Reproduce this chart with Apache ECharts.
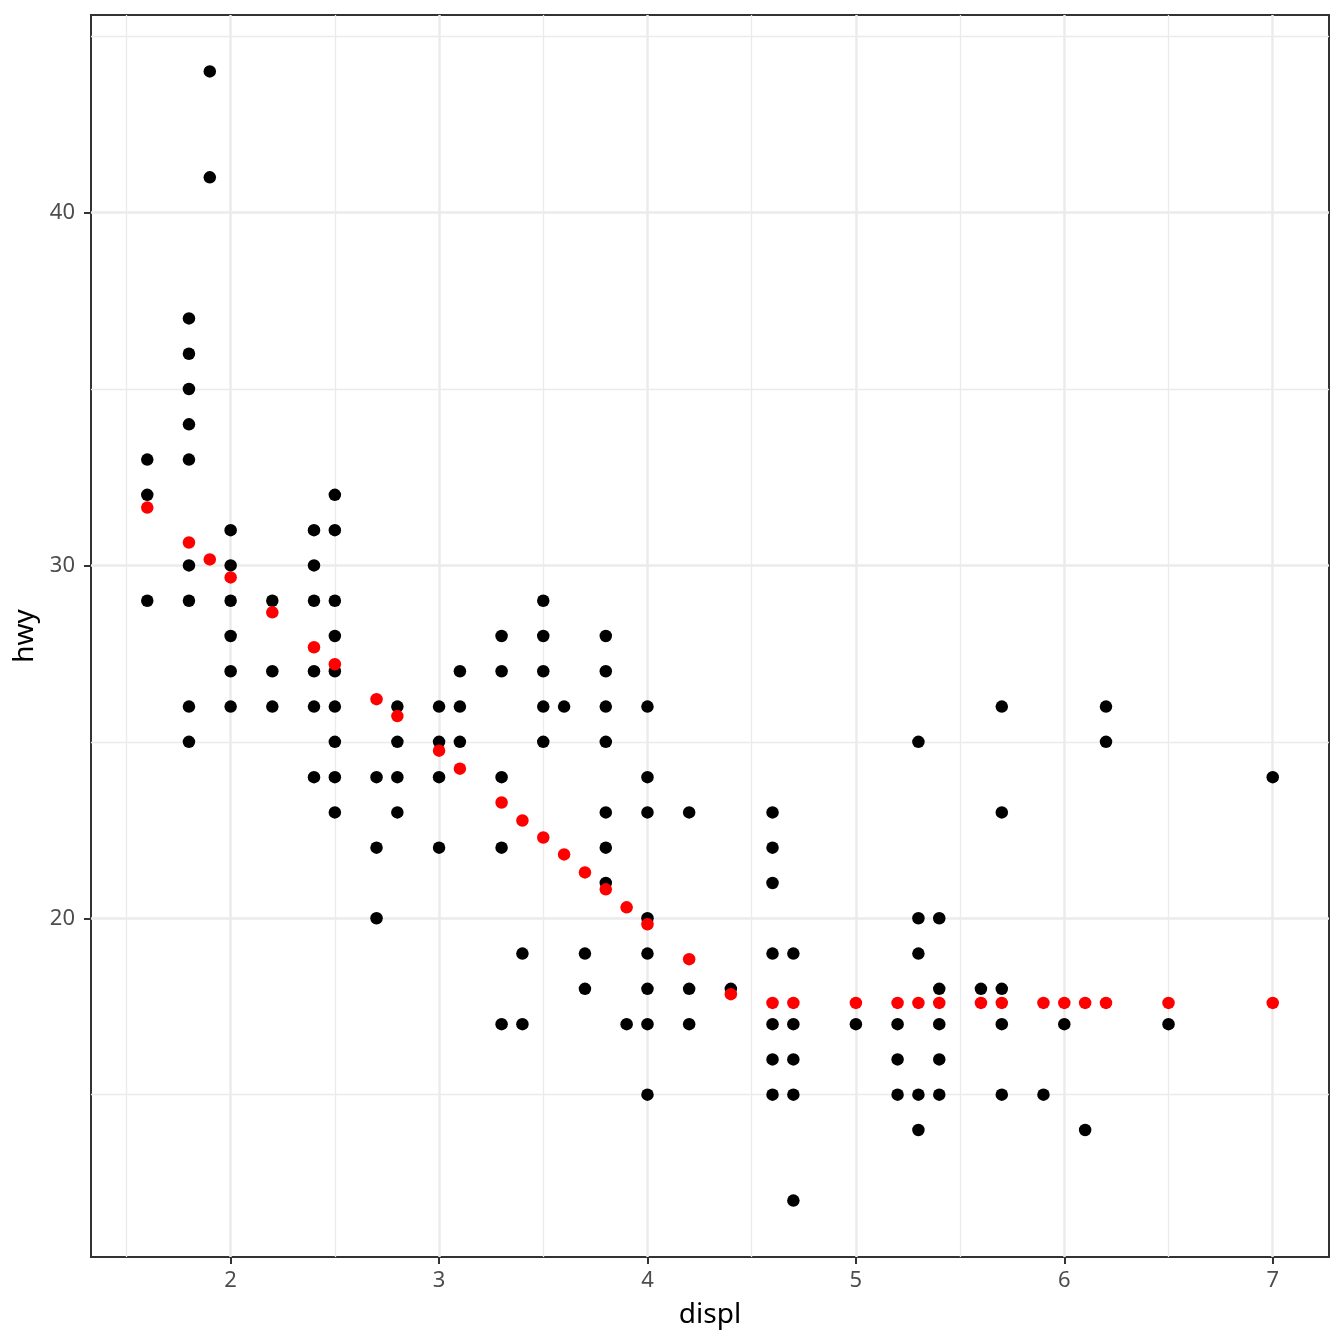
<!DOCTYPE html>
<html>
<head>
<meta charset="utf-8">
<title>displ vs hwy</title>
<script src="https://cdn.jsdelivr.net/npm/echarts@6/dist/echarts.min.js"></script>
<style>
  html, body { margin: 0; padding: 0; background: #fff; }
  #chart { width: 1344px; height: 1344px; }
</style>
</head>
<body>
<div id="chart"></div>
<script>
// observed points (displ, hwy); overlapping duplicates drawn once
const obsDispl = [
  1.6, 1.6, 1.6,
  1.8, 1.8, 1.8, 1.8, 1.8, 1.8, 1.8, 1.8, 1.8,
  1.9, 1.9,
  2.0, 2.0, 2.0, 2.0, 2.0, 2.0,
  2.2, 2.2, 2.2,
  2.4, 2.4, 2.4, 2.4, 2.4, 2.4,
  2.5, 2.5, 2.5, 2.5, 2.5, 2.5, 2.5, 2.5, 2.5,
  2.7, 2.7, 2.7,
  2.8, 2.8, 2.8, 2.8,
  3.0, 3.0, 3.0, 3.0,
  3.1, 3.1, 3.1,
  3.3, 3.3, 3.3, 3.3, 3.3,
  3.4, 3.4,
  3.5, 3.5, 3.5, 3.5, 3.5,
  3.6,
  3.7, 3.7,
  3.8, 3.8, 3.8, 3.8, 3.8, 3.8, 3.8,
  3.9,
  4.0, 4.0, 4.0, 4.0, 4.0, 4.0, 4.0, 4.0,
  4.2, 4.2, 4.2,
  4.4,
  4.6, 4.6, 4.6, 4.6, 4.6, 4.6, 4.6,
  4.7, 4.7, 4.7, 4.7, 4.7,
  5.0,
  5.2, 5.2, 5.2,
  5.3, 5.3, 5.3, 5.3, 5.3,
  5.4, 5.4, 5.4, 5.4, 5.4,
  5.6,
  5.7, 5.7, 5.7, 5.7, 5.7,
  5.9,
  6.0,
  6.1,
  6.2, 6.2,
  6.5,
  7.0
];
const obsHwy = [
  33, 32, 29,
  37, 36, 35, 34, 33, 30, 29, 26, 25,
  44, 41,
  31, 30, 29, 28, 27, 26,
  29, 27, 26,
  31, 30, 29, 27, 26, 24,
  32, 31, 29, 28, 27, 26, 25, 24, 23,
  24, 22, 20,
  26, 25, 24, 23,
  26, 25, 24, 22,
  27, 26, 25,
  28, 27, 24, 22, 17,
  19, 17,
  29, 28, 27, 26, 25,
  26,
  19, 18,
  28, 27, 26, 25, 23, 22, 21,
  17,
  26, 24, 23, 20, 19, 18, 17, 15,
  23, 18, 17,
  18,
  23, 22, 21, 19, 17, 16, 15,
  19, 17, 16, 15, 12,
  17,
  17, 16, 15,
  25, 20, 19, 15, 14,
  20, 18, 17, 16, 15,
  18,
  26, 23, 18, 17, 15,
  15,
  17,
  14,
  26, 25,
  17,
  24
];

// fitted values (red)
const fitDispl = [1.6, 1.8, 1.9, 2.0, 2.2, 2.4, 2.5, 2.7, 2.8, 3.0, 3.1, 3.3, 3.4, 3.5,
  3.6, 3.7, 3.8, 3.9, 4.0, 4.2, 4.4, 4.6, 4.7, 5.0, 5.2, 5.3, 5.4, 5.6, 5.7, 5.9,
  6.0, 6.1, 6.2, 6.5, 7.0];
const fitHwy = [31.64, 30.65, 30.17, 29.66, 28.67, 27.68, 27.20, 26.21, 25.73, 24.75,
  24.24, 23.28, 22.77, 22.29, 21.81, 21.30, 20.82, 20.31, 19.83, 18.84, 17.85,
  17.6, 17.6, 17.6, 17.6, 17.6, 17.6, 17.6, 17.6, 17.6, 17.6, 17.6, 17.6, 17.6, 17.6];

const xMajor = [2, 3, 4, 5, 6, 7];
const xMinor = [1.5, 2.5, 3.5, 4.5, 5.5, 6.5];
const yMajor = [20, 30, 40];
const yMinor = [15, 25, 35, 45];
const xRange = [1.33, 7.27];
const yRange = [10.4, 45.6];

const FONT = 'Noto Sans';
const chart = echarts.init(document.getElementById('chart'));

function axisPair(range, major, minor, isX) {
  const base = {
    type: 'value',
    min: range[0], max: range[1],
    position: isX ? 'bottom' : 'left',
    offset: 0,
    axisLine: { show: false }
  };
  const main = Object.assign({}, base, {
    axisTick: { show: true, inside: false, length: 7, customValues: major,
      lineStyle: { color: '#333333', width: 2 } },
    axisLabel: { show: true, customValues: major, color: '#4D4D4D', fontSize: 22,
      fontFamily: FONT, margin: isX ? 13 : 16 },
    splitLine: { show: true, lineStyle: { color: '#EBEBEB', width: 2.5 } },
    name: isX ? 'displ' : 'hwy',
    nameLocation: 'middle',
    nameGap: isX ? 44 : 48,
    nameTextStyle: { color: '#000', fontSize: 28, fontFamily: FONT }
  });
  const sub = Object.assign({}, base, {
    axisTick: { show: false, customValues: minor },
    axisLabel: { show: false, customValues: minor },
    splitLine: { show: true, lineStyle: { color: '#EBEBEB', width: 1.3 } }
  });
  return [sub, main];
}

chart.setOption({
  backgroundColor: '#fff',
  animation: false,
  grid: {
    left: 91, right: 15, top: 15, bottom: 87,
    containLabel: false, outerBoundsMode: 'none',
    show: true, borderColor: '#333333', borderWidth: 2, backgroundColor: 'transparent'
  },
  xAxis: axisPair(xRange, xMajor, xMinor, true),
  yAxis: axisPair(yRange, yMajor, yMinor, false),
  series: [
    {
      type: 'scatter', xAxisIndex: 1, yAxisIndex: 1,
      symbolSize: 12.5, itemStyle: { color: '#000000', opacity: 1 },
      data: obsDispl.map((d, i) => [d, obsHwy[i]]),
      z: 3
    },
    {
      type: 'scatter', xAxisIndex: 1, yAxisIndex: 1,
      symbolSize: 12.5, itemStyle: { color: '#FF0000', opacity: 1 },
      data: fitDispl.map((d, i) => [d, fitHwy[i]]),
      z: 4
    }
  ]
});
</script>
</body>
</html>
